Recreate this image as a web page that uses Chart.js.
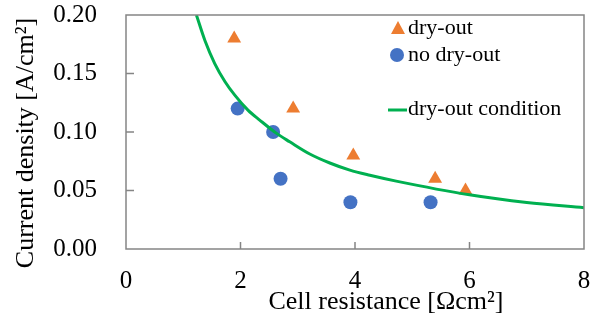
<!DOCTYPE html>
<html>
<head>
<meta charset="utf-8">
<script src="https://cdn.jsdelivr.net/npm/chart.js@4/dist/chart.umd.min.js"></script>
<style>
  body { margin: 0; background: #fff; }
  canvas { display: block; }
</style>
</head>
<body>
<canvas id="chart" width="593" height="323"></canvas>
<script>
// values
const dryOutX = [1.89, 2.92, 3.97, 5.40, 5.93];
const dryOutY = [0.180, 0.120, 0.080, 0.060, 0.050];
const noDryOutX = [1.95, 2.57, 2.70, 3.92, 5.32];
const noDryOutY = [0.120, 0.100, 0.060, 0.040, 0.040];
const curveX = [1.23, 1.38, 1.55, 1.73, 1.90, 2.13, 2.34, 2.63, 2.86, 3.21, 3.56, 3.91, 4.26, 4.72, 6.00, 7.00, 8.00];
const curveY = [0.200, 0.178, 0.1585, 0.143, 0.1315, 0.1187, 0.110, 0.0988, 0.0916, 0.0812, 0.0735, 0.0674, 0.0630, 0.0580, 0.0463, 0.0397, 0.0353];
const xTicks = [0, 2, 4, 6, 8];
const yTicks = [0, 0.05, 0.10, 0.15, 0.20];

const serif = '"Liberation Serif", "Times New Roman", serif';
const orange = '#ED7D31';
const blue = '#4472C4';
const green = '#00B050';

function toPoints(xs, ys) {
  return xs.map((x, i) => ({ x: x, y: ys[i] }));
}

function noPadding(s) {
  s.paddingTop = 0;
  s.paddingBottom = 0;
  s.paddingLeft = 0;
  s.paddingRight = 0;
}

// box, inward ticks, axis titles and legend
const decor = {
  id: 'decor',
  afterDatasetsDraw(chart) {
    const ctx = chart.ctx;
    const a = chart.chartArea;
    const xs = chart.scales.x;
    const ys = chart.scales.y;
    ctx.save();
    ctx.strokeStyle = '#858585';
    ctx.lineWidth = 1.5;
    ctx.strokeRect(a.left, a.top, a.right - a.left, a.bottom - a.top);
    ctx.beginPath();
    xTicks.slice(1, -1).forEach(v => {
      const px = xs.getPixelForValue(v);
      ctx.moveTo(px, a.bottom);
      ctx.lineTo(px, a.bottom - 7);
    });
    yTicks.slice(1, -1).forEach(v => {
      const py = ys.getPixelForValue(v);
      ctx.moveTo(a.left, py);
      ctx.lineTo(a.left + 8, py);
    });
    ctx.stroke();

    ctx.fillStyle = '#000';
    ctx.font = '26px ' + serif;
    ctx.textBaseline = 'middle';
    ctx.textAlign = 'center';
    ctx.fillText('Cell resistance [Ωcm²]', 386, 302);
    ctx.save();
    ctx.translate(26, 143);
    ctx.rotate(-Math.PI / 2);
    ctx.fillText('Current density [A/cm²]', 0, 0);
    ctx.restore();

    // legend
    ctx.font = '22px ' + serif;
    ctx.textAlign = 'left';
    ctx.fillStyle = orange;
    ctx.beginPath();
    ctx.moveTo(398, 21);
    ctx.lineTo(405, 34);
    ctx.lineTo(391, 34);
    ctx.closePath();
    ctx.fill();
    ctx.fillStyle = blue;
    ctx.beginPath();
    ctx.arc(397, 55, 7, 0, Math.PI * 2);
    ctx.fill();
    ctx.strokeStyle = green;
    ctx.lineWidth = 3;
    ctx.beginPath();
    ctx.moveTo(388, 110);
    ctx.lineTo(407, 110);
    ctx.stroke();
    ctx.fillStyle = '#000';
    ctx.fillText('dry-out', 408, 28);
    ctx.fillText('no dry-out', 408, 55);
    ctx.fillText('dry-out condition', 408, 109);
    ctx.restore();
  }
};

new Chart(document.getElementById('chart'), {
  type: 'scatter',
  data: {
    datasets: [
      {
        label: 'dry-out condition',
        type: 'line',
        data: toPoints(curveX, curveY),
        borderColor: green,
        borderWidth: 3,
        pointRadius: 0,
        cubicInterpolationMode: 'monotone',
        fill: false,
        order: 0
      },
      {
        label: 'dry-out',
        data: toPoints(dryOutX, dryOutY),
        pointStyle: 'triangle',
        pointRadius: 8,
        backgroundColor: orange,
        borderColor: orange,
        borderWidth: 0,
        order: 1
      },
      {
        label: 'no dry-out',
        data: toPoints(noDryOutX, noDryOutY),
        pointStyle: 'circle',
        pointRadius: 7,
        backgroundColor: blue,
        borderColor: blue,
        borderWidth: 0,
        order: 2
      }
    ]
  },
  options: {
    responsive: false,
    animation: false,
    layout: { padding: { top: 15, right: 9, left: 0, bottom: 0 } },
    plugins: {
      legend: { display: false },
      tooltip: { enabled: false }
    },
    scales: {
      x: {
        type: 'linear',
        min: 0,
        max: 8,
        afterBuildTicks: s => { s.ticks = xTicks.map(v => ({ value: v })); },
        afterFit: s => { s.height = 74; noPadding(s); },
        grid: { display: false, drawTicks: false },
        border: { display: false },
        ticks: {
          color: '#000',
          padding: 17,
          font: { family: serif, size: 25 }
        }
      },
      y: {
        type: 'linear',
        min: 0,
        max: 0.2,
        afterBuildTicks: s => { s.ticks = yTicks.map(v => ({ value: v })); },
        afterFit: s => { s.width = 126; noPadding(s); },
        grid: { display: false, drawTicks: false },
        border: { display: false },
        ticks: {
          color: '#000',
          padding: 29,
          font: { family: serif, size: 25 },
          callback: v => v.toFixed(2)
        }
      }
    }
  },
  plugins: [decor]
});
</script>
</body>
</html>
